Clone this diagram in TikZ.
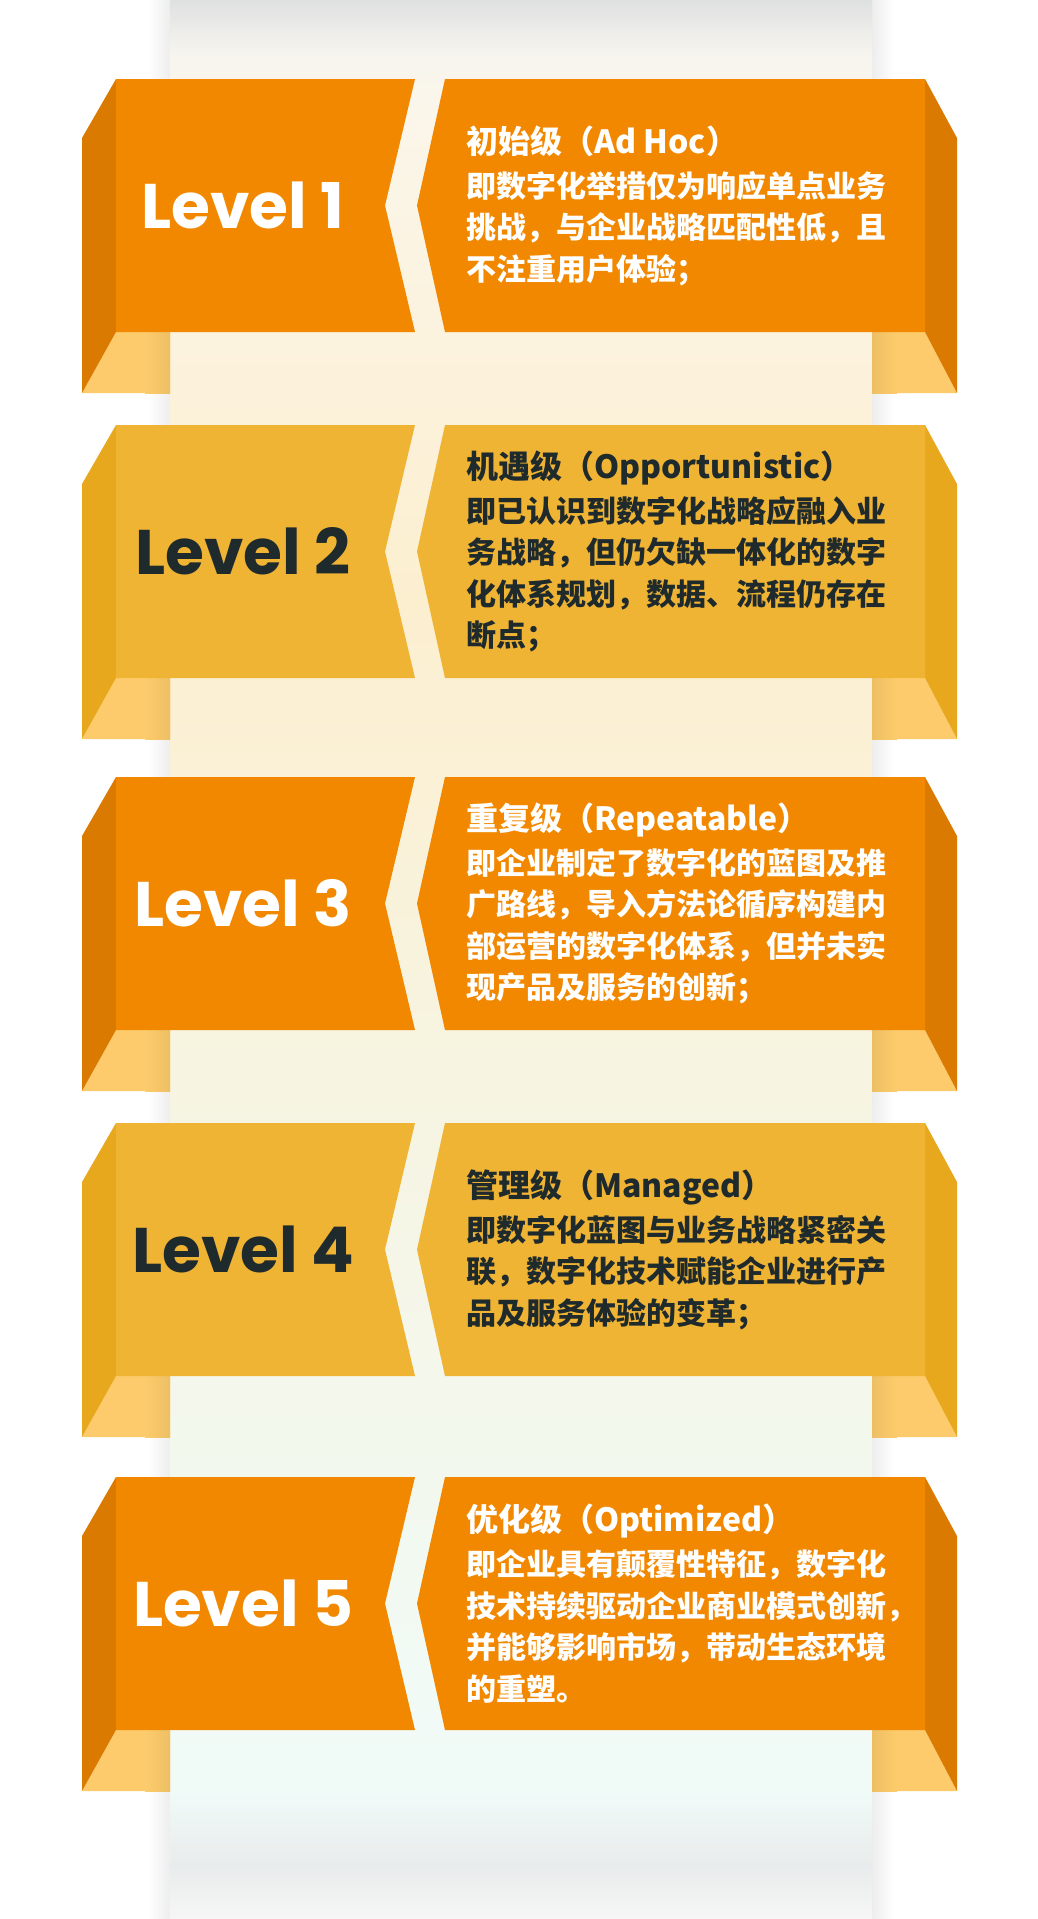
\documentclass[tikz,border=0pt]{standalone}
\usepackage{fontspec}
\newfontfamily\cjkfont{Noto Sans CJK SC}
\newfontfamily\levelfont{Poppins}
\definecolor{lvorange}{HTML}{F18800}
\definecolor{lvorangedk}{HTML}{DB7A00}
\definecolor{lvgold}{HTML}{F0B435}
\definecolor{lvgolddk}{HTML}{E8A81E}
\definecolor{foldyel}{HTML}{FDCB6B}
\definecolor{foldshd}{HTML}{EDBF64}
\definecolor{txtdark}{HTML}{1F2A2C}
\definecolor{colshadow}{HTML}{DFE1E1}
\definecolor{colA}{HTML}{F7F5EF}
\definecolor{colB}{HTML}{FBF6EA}
\definecolor{colC}{HTML}{FCEFD0}
\definecolor{colD}{HTML}{F6F5E4}
\definecolor{colE}{HTML}{F0FBF8}
\definecolor{colF}{HTML}{E9ECEC}
\definecolor{colG}{HTML}{F6F6F6}

\begin{document}
\begin{tikzpicture}[x=1pt,y=-1pt,
    lvlabel/.style={font=\levelfont\bfseries\fontsize{63}{63}\selectfont,inner sep=0pt},
    lvtext/.style={font=\cjkfont\bfseries\fontsize{30}{41.5}\selectfont,align=left,anchor=west,inner sep=0pt}]
  \useasboundingbox (0,0) rectangle (1038,1919);
  \fill[white] (0,0) rectangle (1038,1919);
  % column behind the bands
  \shade[left color=white,right color=black!7] (148,0) rectangle (170,1919);
  \shade[left color=black!7,right color=white] (872,0) rectangle (894,1919);
  \shade[top color=colshadow,bottom color=colA] (170,0) rectangle (872,55);
  \shade[top color=colA,bottom color=colB] (170,55) rectangle (872,110);
  \shade[top color=colB,bottom color=colC] (170,110) rectangle (872,600);
  \shade[top color=colC,bottom color=colD] (170,600) rectangle (872,1150);
  \shade[top color=colD,bottom color=colE] (170,1150) rectangle (872,1790);
  \shade[top color=colE,bottom color=colF] (170,1790) rectangle (872,1865);
  \shade[top color=colF,bottom color=colG] (170,1865) rectangle (872,1919);
  % bands
  \foreach \ty/\fc/\dc/\tc/\lvl/\ttl/\body in {
    79/lvorange/lvorangedk/white/1/{初始级（Ad Hoc）}/{即数字化举措仅为响应单点业务\\挑战，与企业战略匹配性低，且\\不注重用户体验；},
    425/lvgold/lvgolddk/txtdark/2/{机遇级（Opportunistic）}/{即已认识到数字化战略应融入业\\务战略，但仍欠缺一体化的数字\\化体系规划，数据、流程仍存在\\断点；},
    777/lvorange/lvorangedk/white/3/{重复级（Repeatable）}/{即企业制定了数字化的蓝图及推\\广路线，导入方法论循序构建内\\部运营的数字化体系，但并未实\\现产品及服务的创新；},
    1123/lvgold/lvgolddk/txtdark/4/{管理级（Managed）}/{即数字化蓝图与业务战略紧密关\\联，数字化技术赋能企业进行产\\品及服务体验的变革；},
    1477/lvorange/lvorangedk/white/5/{优化级（Optimized）}/{即企业具有颠覆性特征，数字化\\技术持续驱动企业商业模式创新，\\并能够影响市场，带动生态环境\\的重塑。}}{
    \begin{scope}[shift={(0,\ty)}]
      \fill[foldyel] (82,314) -- (116,253) -- (170,253) -- (170,314) -- cycle;
      \shade[left color=foldyel,right color=foldshd] (145,253) rectangle (170,314);
      \fill[foldyel] (872,253) -- (925,253) -- (957,314) -- (872,314) -- cycle;
      \shade[left color=foldshd,right color=foldyel] (872,253) rectangle (897,314);
      \fill[\dc] (116,0) -- (82,59) -- (82,314) -- (116,253) -- cycle;
      \fill[\dc] (925,0) -- (957,59) -- (957,314) -- (925,253) -- cycle;
      \fill[\fc] (116,0) -- (415,0) -- (385,126.5) -- (415,253) -- (116,253) -- cycle;
      \fill[\fc] (445,0) -- (925,0) -- (925,253) -- (445,253) -- (417,126.5) -- cycle;
      \node[lvlabel,text=\tc] (lv\lvl) at (243,126.5) {Level \lvl};
      \node[lvtext,text=\tc] (txt\lvl) at (466,126.5) {{\fontsize{32}{41.5}\selectfont\ttl}\\[2.5pt]\body};
    \end{scope}
  }
\end{tikzpicture}
\end{document}
